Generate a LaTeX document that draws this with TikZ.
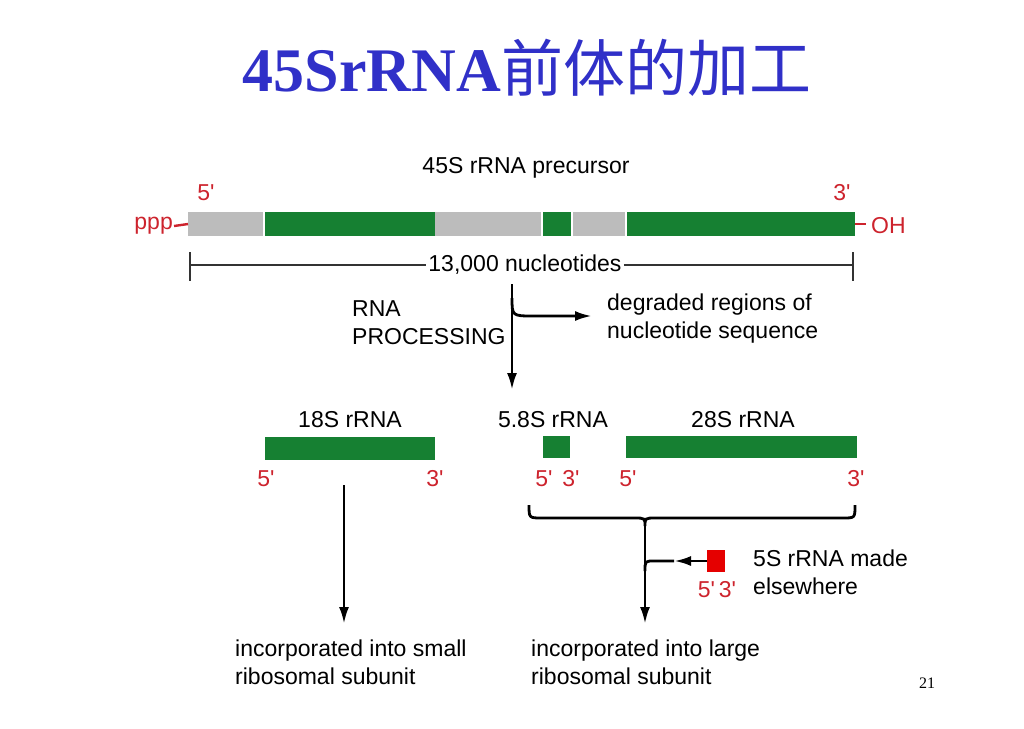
\documentclass[tikz,border=0pt]{standalone}
\usepackage{fontspec}
\setmainfont{Liberation Serif}
\setsansfont{Liberation Sans}
\newfontfamily\cjk{Noto Sans CJK SC}
\usetikzlibrary{positioning,arrows.meta}

\definecolor{rnagreen}{RGB}{22,128,50}
\definecolor{spacergray}{RGB}{188,188,188}
\definecolor{endred}{RGB}{205,35,45}
\definecolor{titleblue}{RGB}{48,48,200}

\newcommand{\pr}{\textquotesingle}

\tikzset{
  greenbar/.style = {fill=rnagreen, inner sep=0pt, minimum height=24pt, anchor=west},
  graybar/.style = {fill=spacergray, inner sep=0pt, minimum height=24pt, anchor=west},
  endlabel/.style = {text=endred, inner sep=1pt},
  label text/.style = {align=left, anchor=west, inner sep=0pt},
  flow/.style = {line width=2.8pt, -{Latex[length=17pt,width=10pt]}}
}

\begin{document}
\begin{tikzpicture}[x=1pt, y=-1pt, font=\sffamily\fontsize{23}{28}\selectfont]
        \useasboundingbox (0,0) rectangle (1024,728);

        % title
        \node [text=titleblue, font=\bfseries\fontsize{62}{68}\selectfont] (title) at (527,68)
        {45SrRNA{\cjk\mdseries 前体的加工}};

        % precursor
        \node (prec) at (526,168) {45S rRNA precursor};
        \node [endlabel] (p5) at (206,193) {5\pr};
        \node [endlabel] (p3) at (842,193) {3\pr};

        \node [graybar, minimum width=75pt] (g1) at (188,224) {};
        \node [greenbar, minimum width=170pt] (r18) at (265,224) {};
        \node [graybar, minimum width=106pt] (g2) at (435,224) {};
        \node [greenbar, minimum width=28pt] (r58) at (543,224) {};
        \node [graybar, minimum width=52pt] (g3) at (573,224) {};
        \node [greenbar, minimum width=228pt] (r28) at (627,224) {};

        \node [endlabel, anchor=east] (ppp) at (174,226) {ppp};
        \node [endlabel, anchor=west] (oh) at (870,226) {OH};
        \draw [endred, line width=2.4pt] (ppp.east) -- (g1.west);
        \draw [endred, line width=2.4pt] (r28.east) -- ++(11,0);

        % length
        \coordinate (lenL) at (190,265);
        \coordinate (lenR) at (853,265);
        \node [fill=white, inner sep=2pt] (len) at (525,265) {13,000 nucleotides};
        \draw [line width=1.8pt, black!80] (lenL) -- (len.west);
        \draw [line width=1.8pt, black!80] (len.east) -- (lenR);
        \draw [line width=1.8pt, black!80] (190,252) -- (190,281);
        \draw [line width=1.8pt, black!80] (853,252) -- (853,281);

        % processing
        \coordinate (procTop) at (512,284);
        \coordinate (procBot) at (512,390);
        \coordinate (degEnd) at (592,316);
        \draw [flow] (procTop) -- (procBot);
        \draw [flow] (512,298) .. controls (512,316) .. (534,316) -- (degEnd);
        \node [label text] (proc) at (352,323) {RNA\\PROCESSING};
        \node [label text] (deg) at (607,319) {degraded regions of\\nucleotide sequence};

        % products
        \node (n18) at (350,420) {18S rRNA};
        \node (n58) at (553,420) {5.8S rRNA};
        \node (n28) at (743,420) {28S rRNA};

        \node [greenbar, minimum width=170pt, minimum height=23pt] (b18) at (265,448) {};
        \node [greenbar, minimum width=27pt, minimum height=22pt] (b58) at (543,447) {};
        \node [greenbar, minimum width=231pt, minimum height=22pt] (b28) at (626,447) {};

        \node [endlabel] at (266,479) {5\pr};
        \node [endlabel] at (435,479) {3\pr};
        \node [endlabel] at (544,479) {5\pr};
        \node [endlabel] at (571,479) {3\pr};
        \node [endlabel] at (628,479) {5\pr};
        \node [endlabel] at (856,479) {3\pr};

        % small subunit
        \coordinate (s18) at (344,485);
        \coordinate (small) at (344,624);
        \draw [flow] (s18) -- (small);

        % brace and large subunit
        \coordinate (tip) at (645,526);
        \coordinate (large) at (645,624);
        \draw [line width=2.8pt] (529,505) .. controls (529,518) .. (542,518) -- (634,518)
        .. controls (645,518) .. (tip) .. controls (645,518) .. (656,518) -- (843,518)
        .. controls (855,518) .. (855,505);
        \draw [flow] (tip) -- (large);

        % 5S
        \node [fill=red!90!black, minimum width=18pt, minimum height=22pt, inner sep=0pt] (s5) at (716,561) {};
        \node [endlabel] (s5ends) at (717,590) {5\pr\,3\pr};
        \node [label text] (s5text) at (753,572) {5S rRNA made\\elsewhere};
        \coordinate (s5tip) at (674,561);
        \draw [flow] (s5.west) -- (s5tip);
        \draw [line width=2.8pt] (s5tip) -- (654,561) .. controls (645,561) .. (645,571);

        % subunits
        \node [label text] (smalltext) at (235,662) {incorporated into small\\ribosomal subunit};
        \node [label text] (largetext) at (531,662) {incorporated into large\\ribosomal subunit};

        \node [font=\rmfamily\fontsize{16}{18}\selectfont] (page) at (927,683) {21};
    \end{tikzpicture}
\end{document}
